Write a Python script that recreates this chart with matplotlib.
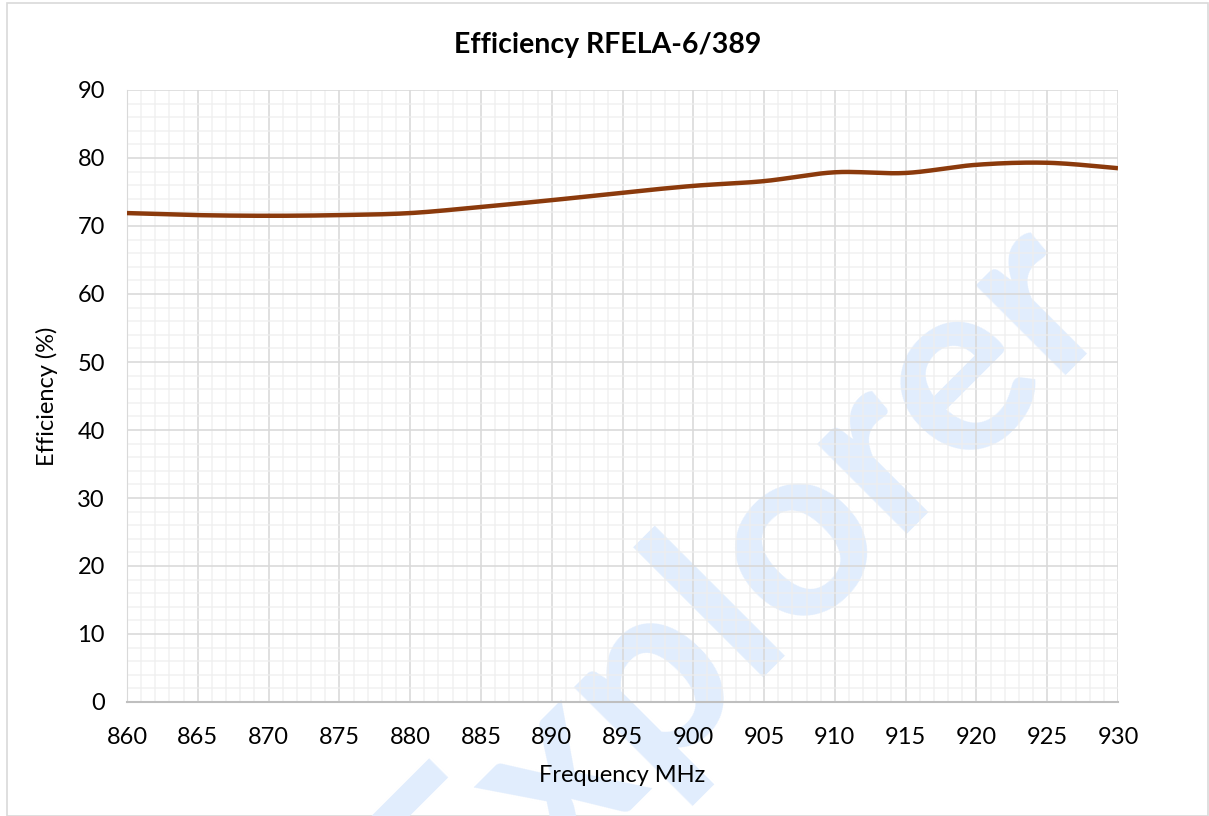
import matplotlib
matplotlib.use("Agg")
import matplotlib.pyplot as plt
from matplotlib.ticker import MultipleLocator
from matplotlib.patches import Rectangle
import numpy as np

plt.rcParams['font.family'] = ['Lato', 'DejaVu Sans']

title = "Efficiency RFELA-6/389"
x_label = "Frequency MHz"
y_label = "Efficiency (%)"

freq = [860, 865, 870, 875, 880, 885, 890, 895, 900, 905, 910, 915, 920, 925, 930]
eff = [71.9, 71.6, 71.5, 71.6, 71.9, 72.8, 73.8, 74.9, 75.9, 76.6, 77.9, 77.8, 79.0, 79.3, 78.5]

fig = plt.figure(figsize=(12.09, 8.16), dpi=100)

# background axes carrying the watermark
bg = fig.add_axes([0, 0, 1, 1], zorder=0)
bg.set_axis_off()
bg.text(735/1209, 1-585/816, "Explorer", fontsize=178, fontweight='bold', color='#e1edfd',
        rotation=45, ha='center', va='center', transform=bg.transAxes)
bg.add_patch(Rectangle((7/1209, 0.0005), 1-7/1209-0.001, 1-3/816-0.0005, transform=bg.transAxes,
                       fill=False, edgecolor='#d9d9d9', lw=1.2))
bg.set_xlim(0, 1); bg.set_ylim(0, 1)

ax = fig.add_axes([127/1209, 1-702/816, (1118-127)/1209, (702-90)/816], zorder=1)
ax.set_facecolor('none')

# smooth line (Excel-like smoothing via Catmull-Rom)
xs = np.array(freq, float)
ys = np.array(eff, float)
px, py = [], []
for i in range(len(xs)-1):
    p0 = i-1 if i > 0 else i
    p3 = i+2 if i+2 < len(xs) else i+1
    for t in np.linspace(0, 1, 20, endpoint=False):
        t2, t3 = t*t, t*t*t
        def cr(a):
            return 0.5*((2*a[i]) + (-a[p0]+a[i+1])*t + (2*a[p0]-5*a[i]+4*a[i+1]-a[p3])*t2 + (-a[p0]+3*a[i]-3*a[i+1]+a[p3])*t3)
        px.append(cr(xs)); py.append(cr(ys))
px.append(xs[-1]); py.append(ys[-1])
ax.plot(px, py, color='#8B3A0C', lw=3.2, solid_capstyle='butt', zorder=3)

ax.set_xlim(860, 930)
ax.set_ylim(0, 90)
ax.xaxis.set_major_locator(MultipleLocator(5))
ax.xaxis.set_minor_locator(MultipleLocator(1))
ax.yaxis.set_major_locator(MultipleLocator(10))
ax.yaxis.set_minor_locator(MultipleLocator(2))
ax.grid(which='major', color='#d9d9d9', lw=1.3, alpha=0.9)
ax.grid(which='minor', color='#eeeeee', lw=1.3, alpha=0.7)
ax.set_axisbelow(True)
ax.tick_params(which='both', length=0, labelsize=17, colors='black')
ax.tick_params(axis='x', pad=18)
ax.tick_params(axis='y', pad=16)
for s in ['top', 'right']:
    ax.spines[s].set_visible(False)
ax.spines['left'].set_color('#d9d9d9')
ax.spines['bottom'].set_color('#bfbfbf')
ax.spines['bottom'].set_linewidth(1.5)

ax.set_xlabel(x_label, fontsize=17, labelpad=12)
ax.set_ylabel(y_label, fontsize=17, labelpad=14)
fig.text(608/1209, 1-45/816, title, fontsize=20.5, fontweight='bold', ha='center', va='center')

fig.savefig("out.png", dpi=100)
